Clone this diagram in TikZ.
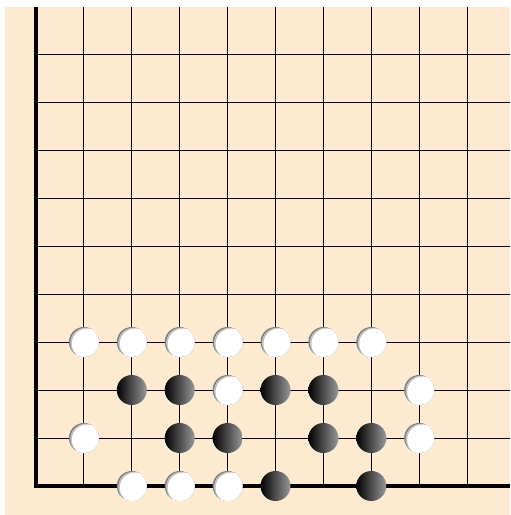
\documentclass[tikz,border=0pt]{standalone}
\usepackage{tikz}
\usetikzlibrary{positioning}
\definecolor{board}{RGB}{253,234,209}

\begin{document}
\begin{tikzpicture}[x=23.95mm, y=24mm, every node/.style={circle, inner sep=0pt, minimum size=15mm},
  wstone/.style={fill=black!50, path picture={
    \fill[black!25] ([shift={(0.8mm,-0.45mm)}]path picture bounding box.center) circle (7.6mm);
    \fill[white] ([shift={(1.6mm,-0.9mm)}]path picture bounding box.center) circle (7.6mm);}},
  bstone/.style={left color=black, right color=black!40}]
  \useasboundingbox (-0.7516,-0.6042) rectangle (9.8956,10.125);
  \fill[board] (-0.6534,-0.6042) rectangle (9.8956,9.985);
  \draw[step=1, line width=0.45mm] (0,0) grid (9.8956,9.985);
  \draw[line width=1.7mm] (0,9.985) -- (0,0) -- (9.8956,0);

  % row 3
  \node[wstone] (w13) at (1,3) {};
  \node[wstone] (w23) at (2,3) {};
  \node[wstone] (w33) at (3,3) {};
  \node[wstone] (w43) at (4,3) {};
  \node[wstone] (w53) at (5,3) {};
  \node[wstone] (w63) at (6,3) {};
  \node[wstone] (w73) at (7,3) {};

  % row 2
  \node[bstone] (b22) at (2,2) {};
  \node[bstone] (b32) at (3,2) {};
  \node[wstone] (w42) at (4,2) {};
  \node[bstone] (b52) at (5,2) {};
  \node[bstone] (b62) at (6,2) {};
  \node[wstone] (w82) at (8,2) {};

  % row 1
  \node[wstone] (w11) at (1,1) {};
  \node[bstone] (b31) at (3,1) {};
  \node[bstone] (b41) at (4,1) {};
  \node[bstone] (b61) at (6,1) {};
  \node[bstone] (b71) at (7,1) {};
  \node[wstone] (w81) at (8,1) {};

  % edge row
  \node[wstone] (w20) at (2,0) {};
  \node[wstone] (w30) at (3,0) {};
  \node[wstone] (w40) at (4,0) {};
  \node[bstone] (b50) at (5,0) {};
  \node[bstone] (b70) at (7,0) {};
\end{tikzpicture}
\end{document}
